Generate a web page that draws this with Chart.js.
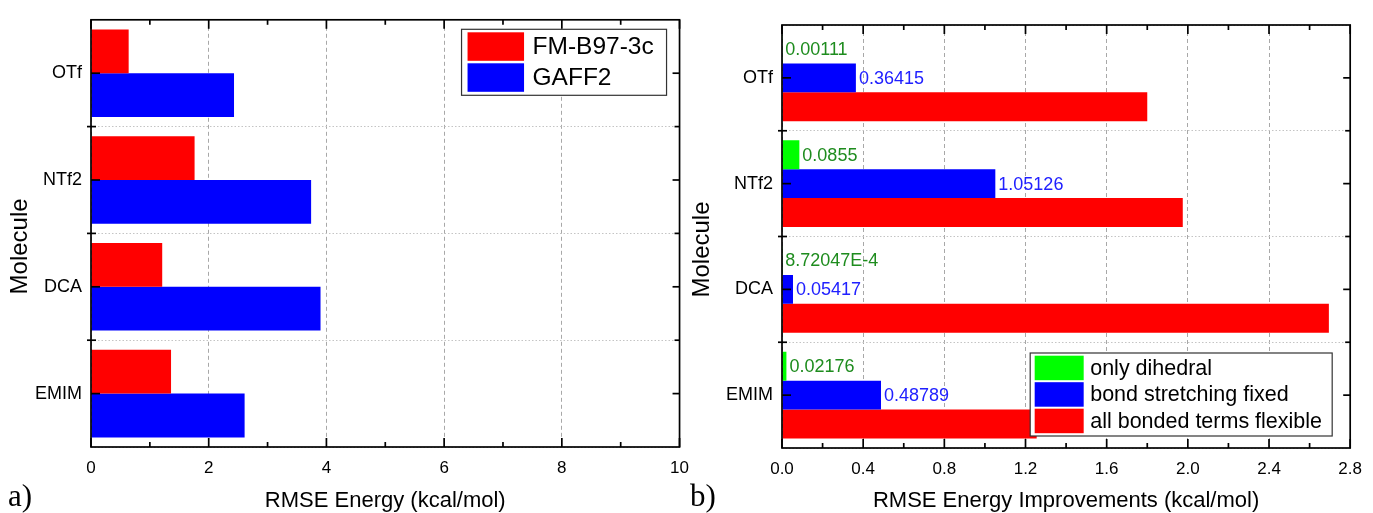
<!DOCTYPE html>
<html>
<head>
<meta charset="utf-8">
<script src="https://cdn.jsdelivr.net/npm/chart.js@4.4.1/dist/chart.umd.min.js"></script>
<style>
  html, body { margin: 0; padding: 0; background: #fff; }
  #wrap { position: relative; width: 1373px; height: 513px; }
  canvas { position: absolute; top: 0; }
  #energyChart { left: 0; }
  #improveChart { left: 682px; }
</style>
</head>
<body>
<div id="wrap">
  <canvas id="energyChart" width="700" height="513"></canvas>
  <canvas id="improveChart" width="691" height="513"></canvas>
</div>
<script>
const molecules = ['OTf', 'NTf2', 'DCA', 'EMIM'];

// a) RMSE energy per method
const fmB97 = [0.64, 1.76, 1.21, 1.36];
const gaff2 = [2.43, 3.74, 3.90, 2.61];

// b) improvements per parametrisation
const onlyDihedral = [0.00111, 0.0855, 8.72047E-4, 0.02176];
const bondFixed = [0.36415, 1.05126, 0.05417, 0.48789];
const allFlexible = [1.80, 1.975, 2.695, 1.255];

const xTicksA = { min: 0, max: 10, step: 2 };
const xTicksB = { min: 0, max: 2.8, step: 0.4 };

Chart.defaults.font.family = '"Liberation Sans", Arial, sans-serif';
Chart.defaults.color = '#000';

function fmtValue(v) {
    if (v < 0.001) return v.toExponential(5).toUpperCase();
    return String(v);
}

// Origin-style box: frame, inward ticks, inner legend, rotated y title, panel letter
const panelDecor = {
    id: 'panelDecor',
    afterDatasetsDraw(chart, args, opts) {
        const ctx = chart.ctx;
        // value labels at the end of bars
        chart.data.datasets.forEach((ds, di) => {
            if (!ds.labelColor) return;
            const meta = chart.getDatasetMeta(di);
            ctx.save();
            ctx.font = '18px "Liberation Sans", Arial, sans-serif';
            ctx.fillStyle = ds.labelColor;
            ctx.textAlign = 'left';
            ctx.textBaseline = 'middle';
            meta.data.forEach((bar, i) => {
                ctx.fillText(fmtValue(ds.data[i]), bar.x + 3, bar.y + 1);
            });
            ctx.restore();
        });
    },
    afterDraw(chart, args, opts) {
        const ctx = chart.ctx;
        const a = chart.chartArea;
        const xs = chart.scales.x, ys = chart.scales.y;
        const line = (x1, y1, x2, y2) => {
            ctx.beginPath(); ctx.moveTo(x1, y1); ctx.lineTo(x2, y2); ctx.stroke();
        };
        ctx.save();
        ctx.strokeStyle = '#000';
        ctx.lineWidth = 1.7;

        xs.ticks.forEach(t => {
            const px = xs.getPixelForValue(t.value);
            line(px, a.bottom, px, a.bottom - 9);
            line(px, a.top, px, a.top + 9);
            const mv = t.value + opts.xStep / 2;
            if (mv < xs.max) {
                const pm = xs.getPixelForValue(mv);
                line(pm, a.bottom, pm, a.bottom - 5);
                line(pm, a.top, pm, a.top + 5);
            }
        });
        const n = chart.data.labels.length;
        for (let i = 0; i < n; i++) {
            const py = ys.getPixelForValue(i);
            line(a.left, py, a.left + 9, py);
            line(a.right, py, a.right - 7, py);
        }
        for (let i = 1; i < n; i++) {
            const py = ys.getPixelForValue(i - 0.5);
            line(a.left - 4, py, a.left + 5, py);
            line(a.right, py, a.right - 5, py);
        }
        ctx.strokeRect(a.left, a.top, a.right - a.left, a.bottom - a.top);
        ctx.restore();

        // legend inside the plot
        const L = opts.legend;
        const bx = a.right - L.right - L.w;
        const by = L.top != null ? a.top + L.top : a.bottom - L.bottom - L.h;
        ctx.save();
        ctx.fillStyle = '#fff';
        ctx.fillRect(bx, by, L.w, L.h);
        ctx.strokeStyle = '#333';
        ctx.lineWidth = 1.2;
        ctx.strokeRect(bx, by, L.w, L.h);
        ctx.font = L.fontSize + 'px "Liberation Sans", Arial, sans-serif';
        ctx.textAlign = 'left';
        ctx.textBaseline = 'middle';
        chart.data.datasets.forEach((ds, i) => {
            const ry = by + L.rowTop + i * L.rowStep;
            ctx.fillStyle = ds.backgroundColor;
            ctx.fillRect(bx + L.swatchX, ry, L.swatchW, L.swatchH);
            ctx.fillStyle = '#000';
            ctx.fillText(ds.label, bx + L.textX, ry + L.swatchH / 2 + 1);
        });
        ctx.restore();

        // y title
        const T = opts.yTitle;
        ctx.save();
        ctx.translate(T.x, (a.top + a.bottom) / 2 + T.dy);
        ctx.rotate(-Math.PI / 2);
        ctx.font = T.size + 'px "Liberation Sans", Arial, sans-serif';
        ctx.fillStyle = '#000';
        ctx.textAlign = 'center';
        ctx.textBaseline = 'middle';
        ctx.fillText(T.text, 0, 0);
        ctx.restore();

        // panel letter
        const P = opts.letter;
        ctx.save();
        ctx.font = '31px "Liberation Serif", "Times New Roman", serif';
        ctx.fillStyle = '#000';
        ctx.textBaseline = 'alphabetic';
        ctx.fillText(P.text, P.x, P.y);
        ctx.restore();
    }
};

function makeOptions(cfg) {
    return {
        indexAxis: 'y',
        responsive: false,
        animation: false,
        layout: { padding: cfg.padding },
        plugins: {
            legend: { display: false },
            tooltip: { enabled: false },
            panelDecor: cfg.decor
        },
        scales: {
            x: {
                type: 'linear',
                min: cfg.ticks.min,
                max: cfg.ticks.max,
                afterFit: s => { s.height = cfg.xHeight; },
                grid: { color: '#a8a8a8', lineWidth: 1, drawTicks: false },
                border: { display: false, dash: [4, 3] },
                ticks: {
                    stepSize: cfg.ticks.step,
                    autoSkip: false,
                    maxRotation: 0,
                    padding: 11,
                    font: { size: 17 },
                    callback: cfg.tickFormat
                },
                title: {
                    display: true,
                    text: cfg.xTitle,
                    font: { size: 22, lineHeight: 1 },
                    padding: { top: 0, bottom: 1 }
                }
            },
            y: {
                type: 'category',
                afterFit: s => { s.width = cfg.yWidth; },
                grid: { color: '#c4c4c4', lineWidth: 1, drawTicks: false, offset: true },
                border: { display: false, dash: [1.5, 2] },
                ticks: { padding: 9, font: { size: 18 } }
            }
        }
    };
}

new Chart(document.getElementById('energyChart').getContext('2d'), {
    type: 'bar',
    data: {
        labels: molecules,
        datasets: [
            { label: 'FM-B97-3c', data: fmB97, backgroundColor: '#ff0000', borderWidth: 0,
              categoryPercentage: 0.82, barPercentage: 1.0 },
            { label: 'GAFF2', data: gaff2, backgroundColor: '#0000ff', borderWidth: 0,
              categoryPercentage: 0.82, barPercentage: 1.0 }
        ]
    },
    options: makeOptions({
        padding: { left: 0, right: 20, top: 15, bottom: 0 },
        ticks: xTicksA,
        tickFormat: v => String(v),
        xHeight: 66,
        yWidth: 91,
        xTitle: 'RMSE Energy (kcal/mol)',
        decor: {
            xStep: xTicksA.step,
            legend: { right: 13, top: 9.5, w: 205, h: 66, swatchX: 6, swatchW: 56.5, swatchH: 28.5,
                      rowTop: 3, rowStep: 31, textX: 71, fontSize: 24.5 },
            yTitle: { text: 'Molecule', x: 20, dy: 13, size: 24 },
            letter: { text: 'a)', x: 8, y: 506 }
        }
    }),
    plugins: [panelDecor]
});

new Chart(document.getElementById('improveChart').getContext('2d'), {
    type: 'bar',
    data: {
        labels: molecules,
        datasets: [
            { label: 'only dihedral', data: onlyDihedral, backgroundColor: '#00ff00', borderWidth: 0,
              labelColor: '#1e8c1e', categoryPercentage: 0.82, barPercentage: 1.0 },
            { label: 'bond stretching fixed', data: bondFixed, backgroundColor: '#0000ff', borderWidth: 0,
              labelColor: '#2020ff', categoryPercentage: 0.82, barPercentage: 1.0 },
            { label: 'all bonded terms flexible', data: allFlexible, backgroundColor: '#ff0000', borderWidth: 0,
              categoryPercentage: 0.82, barPercentage: 1.0 }
        ]
    },
    options: makeOptions({
        padding: { left: 0, right: 10, top: 25, bottom: 0 },
        ticks: xTicksB,
        tickFormat: v => Number(v).toFixed(1),
        xHeight: 65,
        yWidth: 100,
        xTitle: 'RMSE Energy Improvements (kcal/mol)',
        decor: {
            xStep: xTicksB.step,
            legend: { right: 18, bottom: 12, w: 302, h: 83, swatchX: 4.5, swatchW: 49, swatchH: 24.5,
                      rowTop: 2.7, rowStep: 26.5, textX: 60, fontSize: 21.5 },
            yTitle: { text: 'Molecule', x: 20, dy: 13, size: 24 },
            letter: { text: 'b)', x: 8, y: 506 }
        }
    }),
    plugins: [panelDecor]
});
</script>
</body>
</html>
